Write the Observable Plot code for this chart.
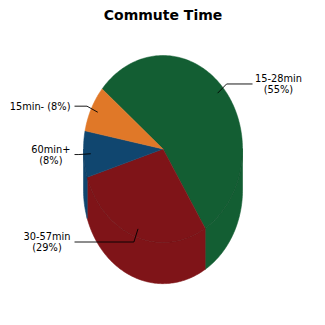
<!DOCTYPE html>
<html>
<head>
<meta charset="utf-8">
<script src="https://cdn.jsdelivr.net/npm/d3@7"></script>
<script src="https://cdn.jsdelivr.net/npm/@observablehq/plot@0.6"></script>
<style>
  html, body { margin: 0; padding: 0; background: #fff; }
  #chart svg { display: block; }
</style>
</head>
<body>
<div id="chart"></div>
<script>
// ---- data ----
const title = "Commute Time";
const categories = ["15-28min", "30-57min", "60min+", "15min-"];
const values = [55, 29, 8, 8];
const labelSeparators = ["\n", "\n", "\n", " "];
const colors = ["#135e33", "#7f1418", "#10466f", "#e07828"];

// ---- layout (not data) ----
const W = 325, H = 325;
const startAngle = 220;     // degrees, screen clockwise from +x
const depth = 0.44;         // extrusion in unit-y
const anchorR = 0.91, elbowR = 1.06;
const leaderEndRight = 1.126, leaderEndLeft = -1.113;
const textEdgeRight = 1.157, textEdgeLeft = -1.164;
const rxPx = 79.5;
const fontSize = 9.8;
const font = "DejaVu Sans";

const total = d3.sum(values);
const rad = d => d * Math.PI / 180;
let acc = startAngle;
const slices = categories.map((c, i) => {
  const a0 = acc, a1 = acc + values[i] / total * 360;
  acc = a1;
  return {cat: c, value: values[i], color: colors[i], a0, a1, mid: (a0 + a1) / 2,
          label: `${c}${labelSeparators[i]}(${Math.round(values[i] / total * 100)}%)`};
});

function arc(a0, a1, dy = 0) {
  const n = Math.max(2, Math.ceil(Math.abs(a1 - a0)));
  const pts = [];
  for (let k = 0; k <= n; k++) {
    const a = rad(a0 + (a1 - a0) * k / n);
    pts.push({x: Math.cos(a), y: Math.sin(a) + dy});
  }
  return pts;
}

const marks = [];
// side walls (front half only: 0..180 and 360..540)
for (const s of slices) {
  for (const [lo, hi] of [[0, 180], [360, 540]]) {
    const b0 = Math.max(s.a0, lo), b1 = Math.min(s.a1, hi);
    if (b1 > b0) {
      const pts = [...arc(b0, b1), ...arc(b1, b0, depth)];
      pts.push(pts[0]);
      marks.push(Plot.line(pts, {x: "x", y: "y", fill: s.color, stroke: s.color, strokeWidth: 0.6, curve: "linear"}));
    }
  }
}
// top faces
for (const s of slices) {
  const pts = [{x: 0, y: 0}, ...arc(s.a0, s.a1), {x: 0, y: 0}];
  marks.push(Plot.line(pts, {x: "x", y: "y", fill: s.color, stroke: s.color, strokeWidth: 0.5, curve: "linear"}));
}
// faint rim of top face
marks.push(Plot.line(arc(4, 176), {x: "x", y: "y", stroke: "rgba(0,0,0,0.13)", strokeWidth: 0.8, strokeLinecap: "butt"}));

// labels and leaders
const ctx = document.createElement("canvas").getContext("2d");
ctx.font = `${fontSize}px "${font}"`;
const labelRows = [];
for (const s of slices) {
  const m = rad(s.mid);
  const right = Math.cos(m) > 0;
  const anchor = {x: anchorR * Math.cos(m), y: anchorR * Math.sin(m)};
  const elbow = {x: elbowR * Math.cos(m), y: elbowR * Math.sin(m)};
  const end = {x: right ? leaderEndRight : leaderEndLeft, y: elbow.y};
  marks.push(Plot.line([anchor, elbow, end], {x: "x", y: "y", stroke: "#000", strokeWidth: 0.9, strokeLinecap: "butt"}));
  const w = d3.max(s.label.split("\n"), t => ctx.measureText(t).width) / rxPx;
  labelRows.push({label: s.label, x: right ? textEdgeRight + w / 2 : textEdgeLeft - w / 2, y: elbow.y});
}
marks.push(Plot.text(labelRows, {x: "x", y: "y", text: "label", textAnchor: "middle", lineAnchor: "middle",
  fontSize, lineHeight: 1.13, fill: "#000", fontFamily: font}));
marks.push(Plot.text([title], {frameAnchor: "top", dy: 10, fontSize: 14, fontWeight: "bold", fill: "#000", fontFamily: font}));

const chart = Plot.plot({
  width: W, height: H,
  margin: 0,
  style: {fontFamily: font, background: "#fff"},
  x: {domain: [-1, 1], range: [83, 242], axis: null},
  y: {domain: [-1, 1], range: [55, 242], axis: null},
  marks
});
document.getElementById("chart").appendChild(chart);
</script>
</body>
</html>
